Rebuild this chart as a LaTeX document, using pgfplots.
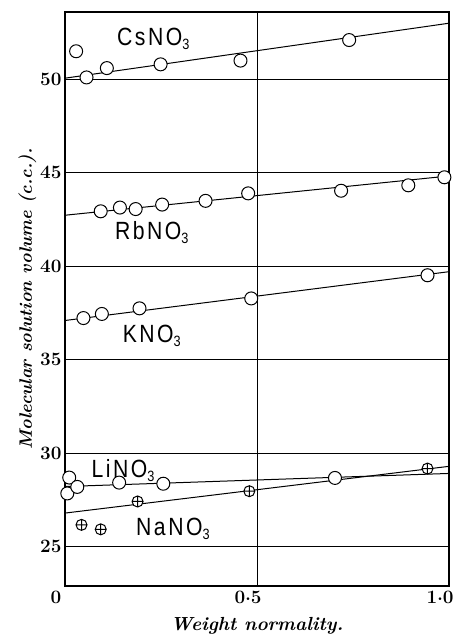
\documentclass[border=0pt]{standalone}
\usepackage{fontspec}
\usepackage{pgfplots}
\pgfplotsset{compat=1.18}
\newfontfamily\hand[FakeStretch=0.85, LetterSpace=10]{Liberation Sans}

% salt label: formula with a lowered 3
\newcommand{\salt}[1]{{\hand\fontsize{25}{25}\selectfont #1\raisebox{-0.3ex}{\fontsize{15}{15}\selectfont 3}}}

\begin{document}
\begin{tikzpicture}
\begin{axis}[
  name=ax,
  scale only axis,
  width=384bp, height=574bp,
  xmin=0, xmax=1, ymin=22.9, ymax=53.6,
  xtick={0,0.5,1},
  xticklabels={0,{0$\cdot$5},{1$\cdot$0}},
  ytick={25,30,35,40,45,50},
  yticklabels={25,30,35,40,45,50},
  ticklabel style={font=\fontsize{19}{19}\selectfont\bfseries\boldmath},
  xticklabel style={xshift=-9bp, yshift=-2bp},
  major tick length=0pt,
  xmajorgrids, ymajorgrids,
  grid style={black, line width=0.8bp},
  axis line style={line width=1.6bp},
  xlabel={Weight normality.},
  ylabel={Molecular solution volume (c.c.).},
  xlabel style={font=\fontsize{19}{19}\selectfont\bfseries\itshape, yshift=-6bp},
  ylabel style={font=\fontsize{18}{18}\selectfont\bfseries\itshape, yshift=-3bp},
  every axis plot/.append style={black, line width=1bp},
]
% fitted lines
\addplot[no marks] coordinates {(0,50.06) (1,53.0)};
\addplot[no marks] coordinates {(0,42.73) (1,44.83)};
\addplot[no marks] coordinates {(0,37.1) (1,39.71)};
\addplot[no marks] coordinates {(0,28.22) (1,28.92)};
\addplot[no marks] coordinates {(0,26.8) (1,29.3)};

% measured points
\addplot[only marks, mark=*, mark size=6.5bp, mark options={fill=white}] coordinates {
  (0.029,51.5) (0.056,50.1) (0.109,50.6) (0.249,50.8) (0.457,51.0) (0.74,52.1)
};
\addplot[only marks, mark=*, mark size=6.5bp, mark options={fill=white}] coordinates {
  (0.093,42.94) (0.143,43.14) (0.184,43.06) (0.253,43.3) (0.366,43.5)
  (0.477,43.9) (0.719,44.04) (0.894,44.33) (0.988,44.76)
};
\addplot[only marks, mark=*, mark size=6.5bp, mark options={fill=white}] coordinates {
  (0.048,37.23) (0.096,37.45) (0.194,37.75) (0.485,38.28) (0.944,39.52)
};
\addplot[only marks, mark=*, mark size=6.5bp, mark options={fill=white}] coordinates {
  (0.011,28.7) (0.006,27.85) (0.032,28.2) (0.141,28.43) (0.256,28.37) (0.703,28.68)
};
\addplot[only marks, mark=oplus*, mark size=5.5bp, mark options={fill=white}] coordinates {
  (0.043,26.17) (0.093,25.93) (0.189,27.42) (0.48,27.97) (0.944,29.18)
};

\node at (axis cs:0.23,52.15) {\salt{CsNO}};
\node at (axis cs:0.226,41.79) {\salt{RbNO}};
\node at (axis cs:0.226,36.28) {\salt{KNO}};
\node at (axis cs:0.151,29.1) {\salt{LiNO}};
\node at (axis cs:0.281,25.95) {\salt{NaNO}};
\end{axis}
\pgfresetboundingbox
\useasboundingbox ([shift={(-65bp,-52bp)}]ax.south west) rectangle ([shift={(4bp,12bp)}]ax.north east);
\end{tikzpicture}
\end{document}
